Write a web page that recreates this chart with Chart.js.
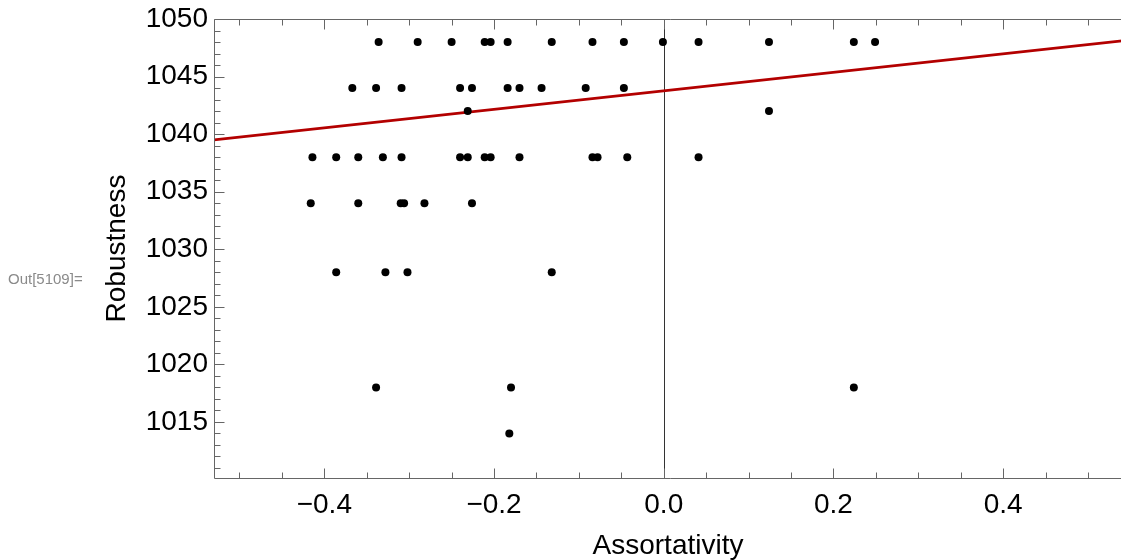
<!DOCTYPE html>
<html>
<head>
<meta charset="utf-8">
<script src="https://cdn.jsdelivr.net/npm/chart.js@4.4.0/dist/chart.umd.min.js"></script>
<style>
  html, body { margin: 0; padding: 0; background: #fff; }
  #wrap { position: relative; width: 1121px; height: 560px; overflow: hidden; }
  #robustChart { position: absolute; left: 0; top: 0; }
  #out { position: absolute; left: 8px; top: 271px; font: 15px "Liberation Sans", Arial, sans-serif; line-height: 15px; color: #8a8a8a; }
</style>
</head>
<body>
<div id="wrap">
  <canvas id="robustChart" width="1126" height="560"></canvas>
  <div id="out">Out[5109]=</div>
</div>
<script>
// Scatter values, one line per robustness level
const assortativity = [
    -0.336, -0.290, -0.250, -0.211, -0.204, -0.184, -0.132, -0.084, -0.047, -0.001, 0.041, 0.124, 0.224, 0.249,
    -0.367, -0.339, -0.309, -0.240, -0.226, -0.184, -0.170, -0.144, -0.092, -0.047,
    -0.231, 0.124,
    -0.414, -0.386, -0.360, -0.331, -0.309, -0.240, -0.231, -0.211, -0.204, -0.170, -0.084, -0.078, -0.043, 0.041,
    -0.416, -0.360, -0.310, -0.306, -0.282, -0.226,
    -0.386, -0.328, -0.302, -0.132,
    -0.339, -0.180, 0.224,
    -0.182
];
const robustness = [
    1048, 1048, 1048, 1048, 1048, 1048, 1048, 1048, 1048, 1048, 1048, 1048, 1048, 1048,
    1044, 1044, 1044, 1044, 1044, 1044, 1044, 1044, 1044, 1044,
    1042, 1042,
    1038, 1038, 1038, 1038, 1038, 1038, 1038, 1038, 1038, 1038, 1038, 1038, 1038, 1038,
    1034, 1034, 1034, 1034, 1034, 1034,
    1028, 1028, 1028, 1028,
    1018, 1018, 1018,
    1014
];

// Fitted line, read at both ends of the plot
const fitX = [-0.53, 0.54];
const fitY = [1039.5, 1048.1];

// Tick labels
const xTicks = [-0.4, -0.2, 0.0, 0.2, 0.4];
const yTicks = [1015, 1020, 1025, 1030, 1035, 1040, 1045, 1050];

const fontFamily = '"Liberation Sans", Arial, sans-serif';

// Frame with inward ticks, like Mathematica's Frame -> True (right side is off-page)
const frameTicks = {
    id: 'frameTicks',
    beforeDatasetsDraw(chart) {
        const { ctx, chartArea: a, scales: { x } } = chart;
        const px = Math.round(x.getPixelForValue(0)) + 0.5;
        ctx.save();
        ctx.strokeStyle = '#333';
        ctx.lineWidth = 1;
        ctx.beginPath();
        ctx.moveTo(px, a.top);
        ctx.lineTo(px, a.bottom);
        ctx.stroke();
        ctx.restore();
    },
    afterDatasetsDraw(chart) {
        const { ctx, chartArea: a, scales: { x, y } } = chart;
        ctx.save();
        ctx.strokeStyle = '#666';
        ctx.lineWidth = 1;
        ctx.beginPath();
        const l = Math.round(a.left) + 0.5, r = chart.width;
        const t = Math.round(a.top) + 0.5, b = Math.round(a.bottom) + 0.5;
        ctx.moveTo(r, t); ctx.lineTo(l, t); ctx.lineTo(l, b); ctx.lineTo(r, b);
        for (let i = -10; i <= 10; i++) {
            const px = Math.round(x.getPixelForValue(i * 0.05)) + 0.5;
            const len = i % 4 === 0 ? 10 : 6;
            ctx.moveTo(px, b); ctx.lineTo(px, b - len);
            ctx.moveTo(px, t); ctx.lineTo(px, t + len);
        }
        for (let v = 1011; v <= 1050; v++) {
            const py = Math.round(y.getPixelForValue(v)) + 0.5;
            const len = v % 5 === 0 ? 10 : 6;
            ctx.moveTo(l, py); ctx.lineTo(l + len, py);
        }
        ctx.stroke();
        ctx.restore();
    }
};

const ctx = document.getElementById('robustChart').getContext('2d');
new Chart(ctx, {
    type: 'scatter',
    data: {
        datasets: [{
            data: assortativity.map((v, i) => ({ x: v, y: robustness[i] })),
            backgroundColor: '#000',
            borderWidth: 0,
            pointRadius: 4,
            pointHoverRadius: 4
        }, {
            data: fitX.map((v, i) => ({ x: v, y: fitY[i] })),
            showLine: true,
            borderColor: '#b30000',
            borderWidth: 2.6,
            pointRadius: 0
        }]
    },
    options: {
        responsive: false,
        animation: false,
        layout: { padding: { top: 19, right: 2, left: 0, bottom: 0 } },
        plugins: {
            legend: { display: false },
            tooltip: { enabled: false }
        },
        scales: {
            x: {
                type: 'linear',
                min: -0.53,
                max: 0.54,
                grid: { display: false, drawTicks: false },
                border: { display: false },
                afterBuildTicks: s => { s.ticks = xTicks.map(v => ({ value: v })); },
                afterFit: s => { s.height = 82; s.paddingLeft = 0; s.paddingRight = 0; },
                ticks: {
                    color: '#000',
                    padding: 10,
                    maxRotation: 0,
                    autoSkip: false,
                    font: { family: fontFamily, size: 28 },
                    callback: v => (v < 0 ? '\u2212' : '') + Math.abs(v).toFixed(1)
                },
                title: {
                    display: true,
                    text: 'Assortativity',
                    color: '#000',
                    padding: 0,
                    font: { family: fontFamily, size: 28, lineHeight: 1 }
                }
            },
            y: {
                min: 1010.13,
                max: 1050,
                grid: { display: false, drawTicks: false },
                border: { display: false },
                afterBuildTicks: s => { s.ticks = yTicks.map(v => ({ value: v })); },
                afterFit: s => { s.width = 214; s.paddingTop = 0; s.paddingBottom = 0; },
                ticks: {
                    color: '#000',
                    padding: 6,
                    font: { family: fontFamily, size: 28 },
                    callback: v => String(v)
                },
                title: {
                    display: true,
                    text: 'Robustness',
                    color: '#000',
                    padding: { top: 103, bottom: 0 },
                    font: { family: fontFamily, size: 28, lineHeight: 1 }
                }
            }
        }
    },
    plugins: [frameTicks]
});
</script>
</body>
</html>
